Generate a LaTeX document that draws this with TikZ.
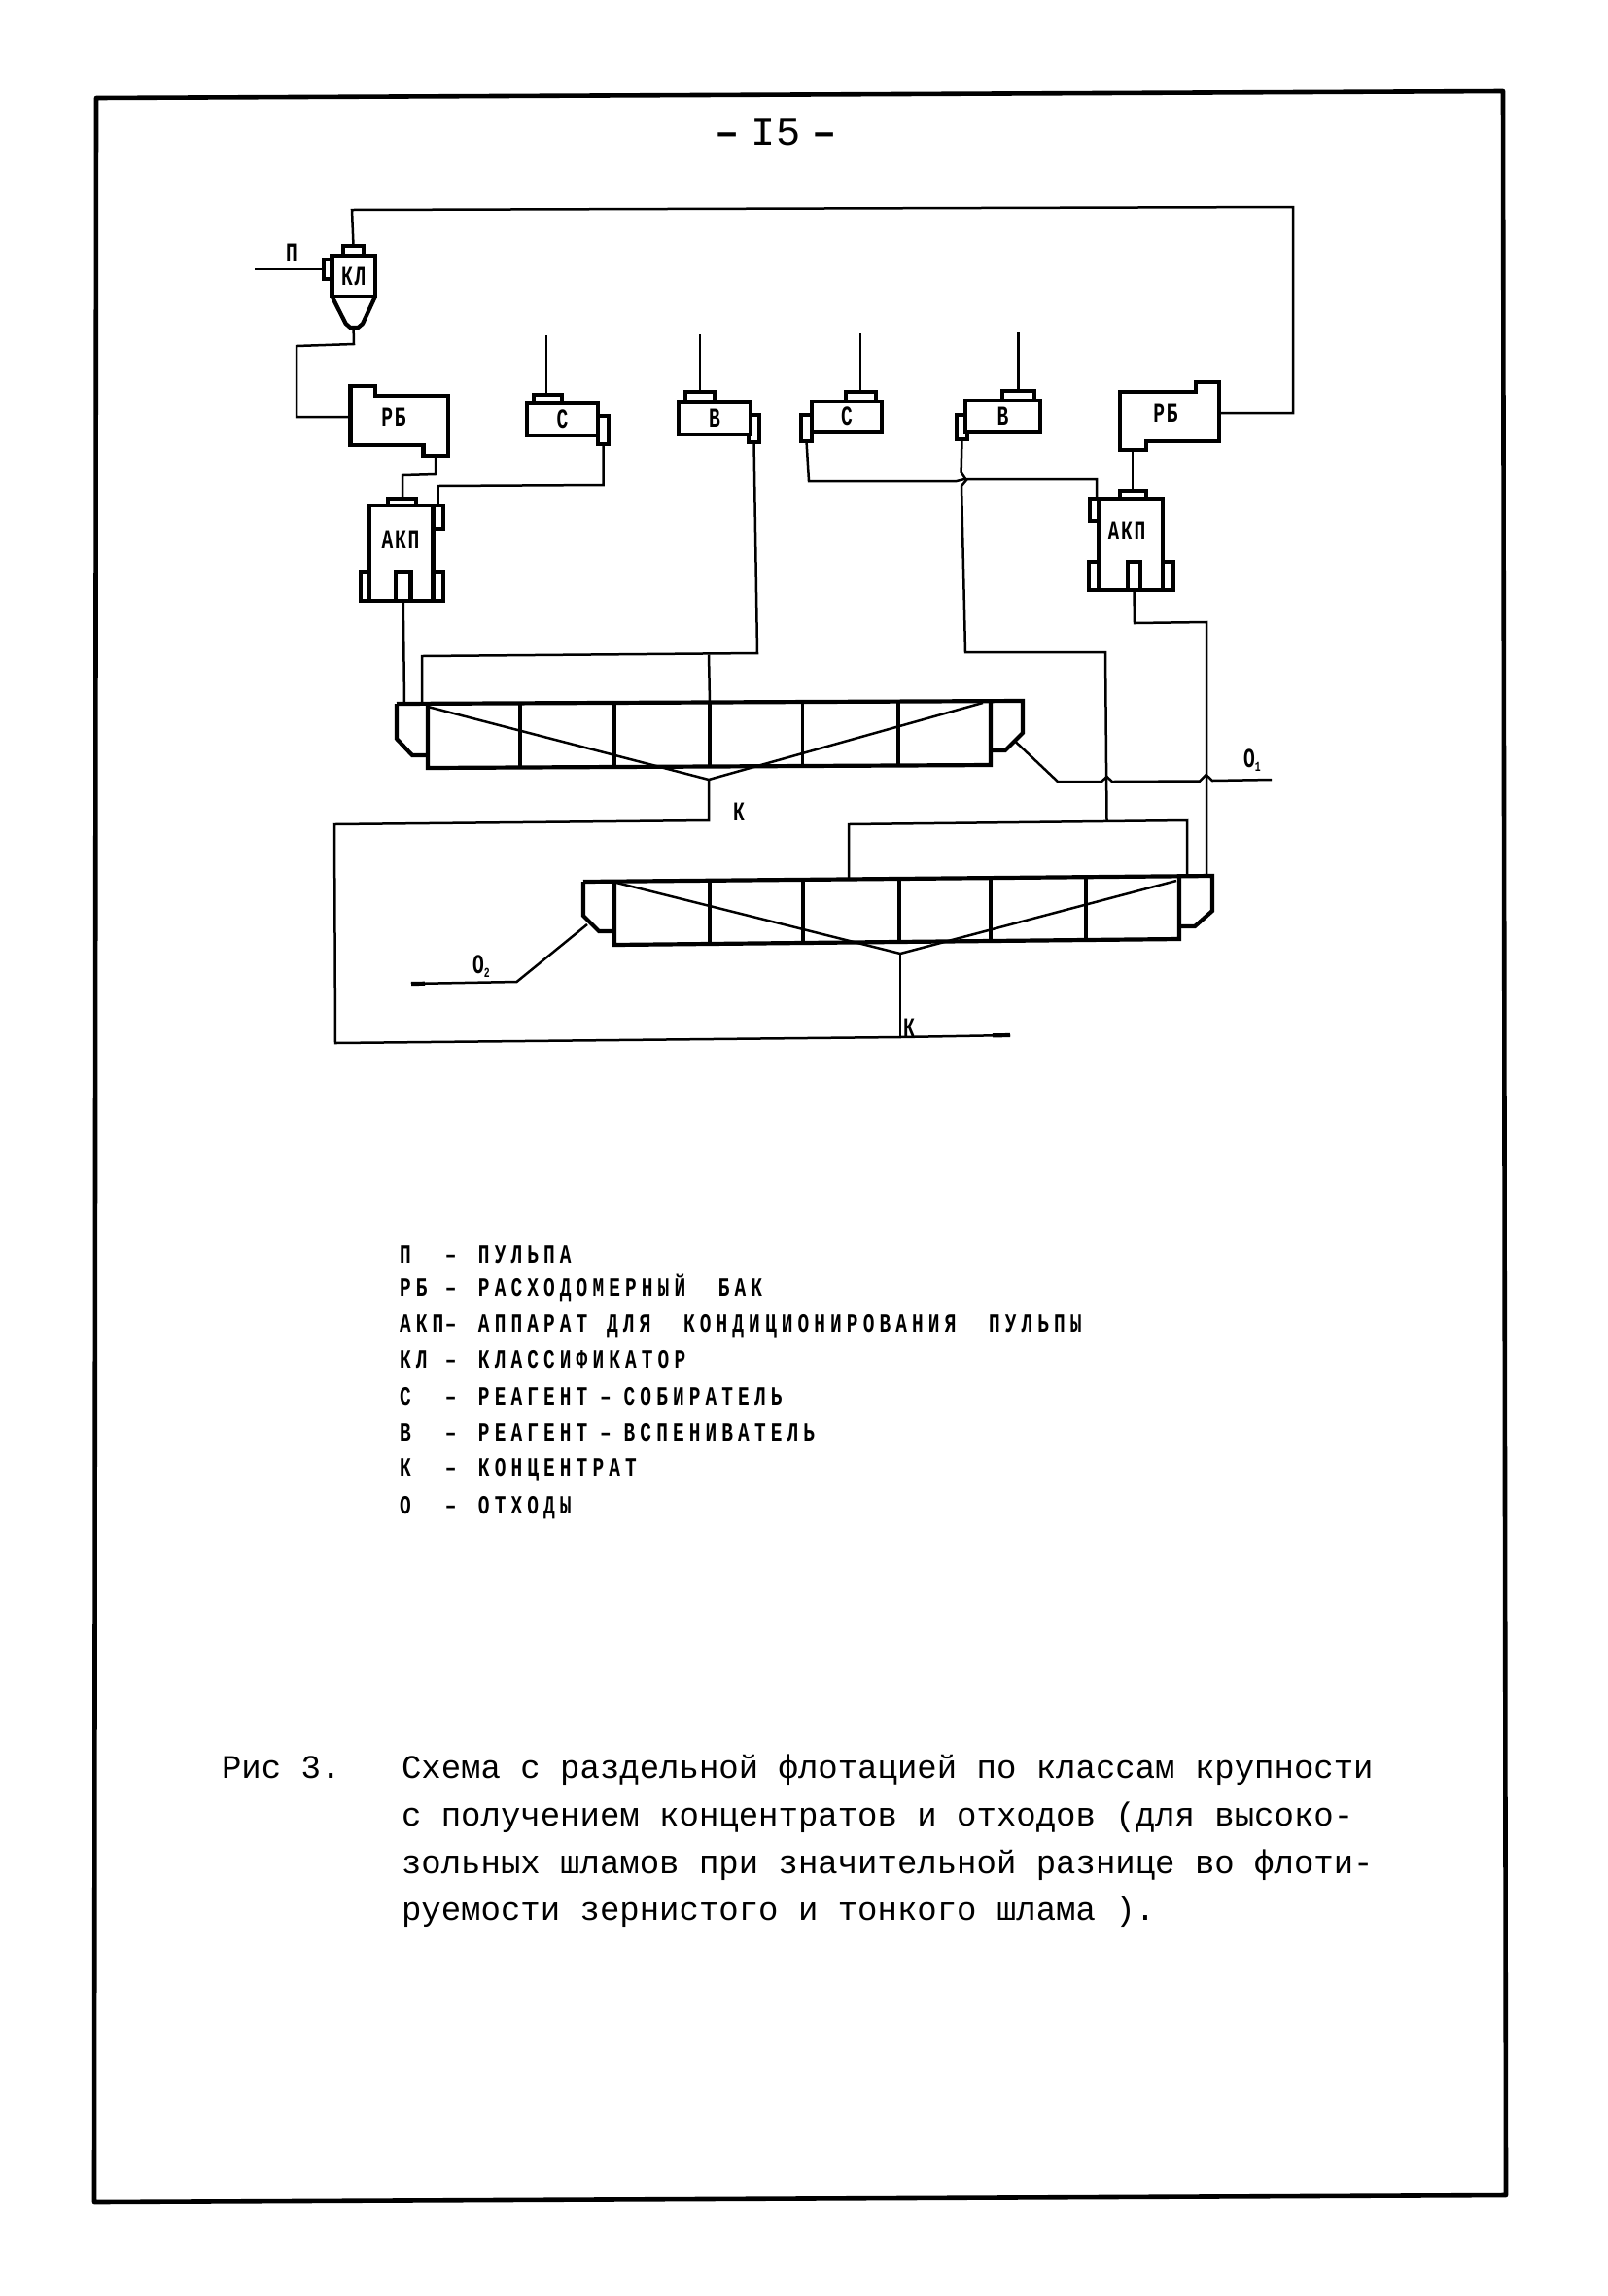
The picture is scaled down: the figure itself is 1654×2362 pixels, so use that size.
\documentclass[tikz,border=0pt]{standalone}
\usepackage{fontspec}
\usetikzlibrary{calc}
\setmainfont{Liberation Mono}
\newfontfamily\typer{Liberation Mono}
\newfontfamily\plota[FakeStretch=0.72,LetterSpace=19]{Liberation Mono}
\newfontfamily\plotb[FakeStretch=0.7,LetterSpace=6]{Liberation Mono}
\tikzset{
  heavy/.style={line width=2.1pt,line join=miter},
  light/.style={line width=1.25pt,line join=miter},
  cellline/.style={line width=1.7pt},
  unitbox/.style={draw,heavy,rectangle,inner sep=0pt,outer sep=0pt,fill=white,font=\plotb\bfseries\fontsize{14}{16}\selectfont},
  tag/.style={inner sep=0pt,outer sep=0pt,font=\plotb\bfseries\fontsize{14}{16}\selectfont},
  legend/.style={inner sep=0pt,outer sep=0pt,anchor=base west,font=\plota\bfseries\fontsize{13.5}{16}\selectfont},
  caption/.style={inner sep=0pt,outer sep=0pt,anchor=base west,font=\typer\fontsize{17}{20}\selectfont}
}
% name, x1, y1, x2, y2, text
\newcommand{\ubox}[6]{\node[unitbox,minimum width={(#4-#2)*0.5pt},minimum height={(#5-#3)*0.5pt}] (#1) at ({(#2+#4)/2},{(#3+#5)/2}) {#6};}
\newcommand{\lgd}[4]{\node[legend] (#1) at (411,#2) {\makebox[23.5pt][l]{#3}\makebox[17pt][l]{–}#4};}
\begin{document}
\begin{tikzpicture}[x=0.5pt,y=-0.5pt]
\useasboundingbox (0,0) rectangle (1654,2362);
\fill[white] (0,0) rectangle (1654,2362);
% page frame
\draw[line width=2.3pt,line join=round] (99,101) -- (1546,94) -- (1549,2258) -- (97,2265) -- cycle;
% page number
\node[inner sep=0pt,font=\typer\fontsize{21}{24}\selectfont] (pagenum) at (798,136) {\textbf{–}\hspace{6pt}I5\hspace{6pt}\textbf{–}};

% ---------- classifier
\ubox{klcap}{353}{253}{374}{264}{}
\ubox{klport}{333}{267}{342}{287}{}
\draw[heavy,fill=white] (341.5,305) -- (355.7,333) -- (360.4,337) -- (368.3,337) -- (373,333) -- (386,305);
\coordinate (klout) at (363.6,337);
\ubox{kl}{341.5}{263}{386}{305}{КЛ}
\coordinate (pin) at (262,277);
\node[tag] (plabel) at (300,260) {П};

% ---------- flow tanks
\draw[heavy] (360.4,397) -- (386,397) -- (386,407) -- (461,407) -- (461,469) -- (435.5,469) -- (435.5,458) -- (360.4,458) -- cycle;
\node[tag] (rb1) at (405,429) {РБ};
\coordinate (rb1in) at (360.4,429);
\coordinate (rb1out) at (448,469);
\draw[heavy] (1152,403) -- (1230,403) -- (1230,393) -- (1253.6,393) -- (1253.6,454) -- (1178.6,454) -- (1178.6,463) -- (1152,463) -- cycle;
\node[tag] (rb2) at (1199,425) {РБ};
\coordinate (rb2in) at (1253.6,425);
\coordinate (rb2out) at (1165,463);

% ---------- conditioners
\ubox{a1cap}{399}{513}{428}{521}{}
\ubox{a1port}{445.4}{520}{456}{544}{}
\ubox{a1l}{371}{588}{380}{618}{}
\ubox{a1r}{445.4}{588}{456}{618}{}
\ubox{a1body}{380}{520}{445.4}{618}{}
\ubox{a1c}{407}{588}{422.5}{618}{}
\node[tag] (a1) at (412,555) {АКП};

\ubox{a2cap}{1152}{505}{1179}{513}{}
\ubox{a2port}{1121}{513}{1130}{536}{}
\ubox{a2l}{1120}{578}{1130}{607}{}
\ubox{a2r}{1196}{578}{1207}{607}{}
\ubox{a2body}{1130}{513}{1196}{607}{}
\ubox{a2c}{1160}{578}{1173}{607}{}
\node[tag] (a2) at (1159,546) {АКП};

% ---------- reagent feeders
\ubox{c1cap}{549}{406}{578}{415}{}
\ubox{c1port}{615}{428}{626}{457}{}
\ubox{c1}{542}{415}{615}{448}{С}
\ubox{v1cap}{705}{403}{735}{414}{}
\ubox{v1port}{770}{427}{781}{455}{}
\ubox{v1}{698}{414}{772}{447}{В}
\ubox{c2cap}{870}{403}{901}{413}{}
\ubox{c2port}{824}{427}{835}{454}{}
\ubox{c2}{835}{413}{907}{444}{С}
\ubox{v2cap}{1031}{402}{1064}{412}{}
\ubox{v2port}{984}{427}{995}{452}{}
\ubox{v2}{993}{412}{1070}{444}{В}
\coordinate (c1in) at (562,345);
\coordinate (v1in) at (720,344);
\coordinate (c2in) at (885,343);
\coordinate (v2in) at (1047.5,342);

% ---------- flotation bank 1
\coordinate (b1tl) at (408,724);
\coordinate (b1tr) at (1052,721);
\coordinate (b1v) at (729,802);
\draw[heavy] (b1tl) -- (b1tr) -- (1052,754) -- (1034,772) -- (1019,772);
\draw[heavy] (b1tl) -- (408,760) -- (424,777) -- (440,777);
\draw[heavy] (440,723.5) -- (440,790) -- (1019,787) -- (1019,722);
\draw[cellline] (535,723) -- (535,790) (632,723) -- (632,789) (730,722.5) -- (730,788.5) (825.5,722) -- (825.5,788) (924,722) -- (924,787.5);
\draw[light] (440,727) -- (b1v) -- (1011,723);
\coordinate (b1o) at (1043.5,762);

% ---------- flotation bank 2
\coordinate (b2tl) at (600,907);
\coordinate (b2tr) at (1247,901);
\coordinate (b2v) at (926,981);
\draw[heavy] (b2tl) -- (b2tr) -- (1247,937) -- (1229,953) -- (1213,953);
\draw[heavy] (b2tl) -- (600,942) -- (616,958) -- (632,958);
\draw[heavy] (632,907) -- (632,972) -- (1213,966) -- (1213,902);
\draw[cellline] (730,906) -- (730,971) (826,905) -- (826,970) (925,904) -- (925,969) (1019,903.5) -- (1019,968) (1117,903) -- (1117,967);
\draw[light] (634,908) -- (b2v) -- (1210,906);
\coordinate (b2o) at (604,951);

% ---------- connectors
\draw[light] (pin) -- (klport.west);
\draw[light] (klcap.north) -- (362,216) -- (1330,213) -- (1330,425) -- (rb2in);
\draw[light] (klout) -- (364,354) -- (305,356) -- (305,429) -- (rb1in);
\draw[light] (rb1out) -- (448,488) -- (414,489) -- (a1cap.north -| 414,0);
\draw[light] (c1in) -- (c1cap.north -| c1in);
\draw[light] (v1in) -- (v1cap.north -| v1in);
\draw[light] (c2in) -- (c2cap.north -| c2in);
\draw[light] (v2in) -- (v2cap.north -| v2in);
\draw[light] (c1port.south) -- (620.5,499) -- (450.5,500) -- (a1port.north -| 450.5,0);
\draw[light] (rb2out) -- (a2cap.north -| rb2out);
\draw[light] (a1c.south) -- (416,723);
\draw[light] (v1port.south) -- (779,672) -- (434,675) -- (434,724);
\draw[light] (729,673.5) -- (730,723);
% right side
\draw[light] (c2port.south) -- (832,495) -- (984,495) -- (992,493) -- (1128,493) -- (a2port.north -| 1128,0);
\draw[light] (v2port.south) -- (988.6,486) -- (994,494) -- (989,500) -- (993,671) -- (1137,671) -- (1138.5,844);
\draw[light] (873,903) -- (873,848) -- (1221,844) -- (1221,901);
\draw[light] (a2c.south) -- (1167,641) -- (1241,640) -- (1241,901);
% waste and concentrate
\coordinate (o1end) at (1308,802);
\coordinate (o2end) at (423,1012);
\coordinate (kend) at (1039,1065);
\draw[light] (b1o) -- (1088,804) -- (1133,804) -- (1138.5,799) -- (1144,804) -- (1234,803.5) -- (1240.6,797) -- (1247,803) -- (o1end);
\draw[light] (b2o) -- (531.5,1010) -- (o2end);
\draw[heavy] (o2end) -- (437,1011.8);
\draw[light] (b1v) -- (729,844) -- (344,848) -- (345,1073) -- (926,1067);
\draw[light] (b2v) -- (926,1067);
\draw[light] (926,1067) -- (kend);
\draw[heavy] (1021,1065.3) -- (kend);

% ---------- stream labels
\node[tag] (k1) at (760,835) {К};
\node[tag] (k2) at (935,1057) {К};
\node[tag] (o1) at (1288,782) {О\raisebox{-2pt}{\fontsize{7}{8}\selectfont 1}};
\node[tag] (o2) at (495,994) {О\raisebox{-2pt}{\fontsize{7}{8}\selectfont 2}};

% ---------- legend
\lgd{l1}{1299}{П}{ПУЛЬПА}
\lgd{l2}{1333}{РБ}{РАСХОДОМЕРНЫЙ\hspace{8.4pt} БАК}
\lgd{l3}{1370}{АКП}{АППАРАТ\hspace{1.5pt} ДЛЯ\hspace{8.4pt} КОНДИЦИОНИРОВАНИЯ\hspace{8.4pt} ПУЛЬПЫ}
\lgd{l4}{1407}{КЛ}{КЛАССИФИКАТОР}
\lgd{l5}{1445}{С}{РЕАГЕНТ\hspace{-2pt} –\hspace{-2pt} СОБИРАТЕЛЬ}
\lgd{l6}{1482}{В}{РЕАГЕНТ\hspace{-2pt} –\hspace{-2pt} ВСПЕНИВАТЕЛЬ}
\lgd{l7}{1518}{К}{КОНЦЕНТРАТ}
\lgd{l8}{1557}{О}{ОТХОДЫ}

% ---------- caption
\node[caption] (figno) at (228,1829) {Рис 3.};
\node[caption] (cap1) at (413,1829) {Схема с раздельной флотацией по классам крупности};
\node[caption] (cap2) at (413,1878) {с получением концентратов и отходов (для высоко-};
\node[caption] (cap3) at (413,1927) {зольных шламов при значительной разнице во флоти-};
\node[caption] (cap4) at (413,1975) {руемости зернистого и тонкого шлама ).};
\end{tikzpicture}
\end{document}
